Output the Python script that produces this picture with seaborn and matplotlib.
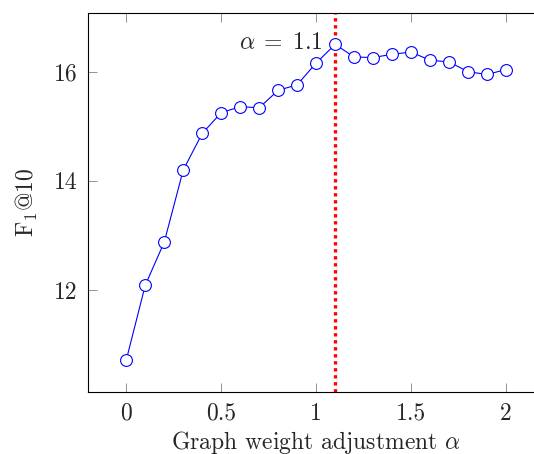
import numpy as np
import pandas as pd
import matplotlib
matplotlib.use("Agg")
import matplotlib.pyplot as plt
import seaborn as sns

# graph weight adjustment sweep
alpha = [0.0, 0.1, 0.2, 0.3, 0.4, 0.5, 0.6, 0.7, 0.8, 0.9, 1.0,
         1.1, 1.2, 1.3, 1.4, 1.5, 1.6, 1.7, 1.8, 1.9, 2.0]
f1_at_10 = [10.72, 12.09, 12.88, 14.20, 14.87, 15.25, 15.36, 15.34, 15.66, 15.76, 16.16,
            16.50, 16.27, 16.26, 16.32, 16.36, 16.21, 16.18, 16.00, 15.95, 16.04]
best_alpha = 1.1
x_ticks = [0, 0.5, 1, 1.5, 2]
x_tick_labels = ["0", "0.5", "1", "1.5", "2"]
y_ticks = [12, 14, 16]
y_tick_labels = ["12", "14", "16"]

df = pd.DataFrame({"alpha": alpha, "f1": f1_at_10})

sns.set_style("ticks")
plt.rcParams["font.family"] = "serif"
plt.rcParams["font.serif"] = ["cmr10", "DejaVu Serif"]
plt.rcParams["mathtext.fontset"] = "cm"
plt.rcParams["axes.formatter.use_mathtext"] = True
FS = 17

W, H = 534, 454
fig = plt.figure(figsize=(W / 100, H / 100), dpi=100)
ax = fig.add_axes([88.3 / W, (H - 391.7) / H, (544 - 88.3) / W, (391.7 - 13.3) / H])

sns.lineplot(data=df, x="alpha", y="f1", ax=ax, color="blue", linewidth=0.8,
             marker="o", markersize=8.5, markerfacecolor="white",
             markeredgecolor="blue", markeredgewidth=0.8)

# best setting marker
ax.axvline(best_alpha, color="red", linewidth=2.4, linestyle=(0, (1, 1.1)), zorder=1)
ax.annotate(r"$\alpha\;=\;1.1$", xy=(best_alpha, max(f1_at_10)), xytext=(-9, -3),
            textcoords="offset points", ha="right", va="baseline", fontsize=FS)

ax.set_xlim(-0.2, 2.2)
ax.set_ylim(10.14, 17.07)
ax.set_xticks(x_ticks)
ax.set_xticklabels(x_tick_labels)
ax.set_yticks(y_ticks)
ax.set_yticklabels(y_tick_labels)
ax.tick_params(direction="in", length=6.5, width=0.6, color="#808080",
               top=True, right=True, labelsize=FS, pad=8)
for s in ax.spines.values():
    s.set_linewidth(0.8)
    s.set_color("black")

ax.set_xlabel(r"Graph weight adjustment $\alpha$", fontsize=FS, labelpad=3)
ax.set_ylabel(r"F$_1$@10", fontsize=FS, labelpad=10)

fig.savefig("out.png", dpi=100)
